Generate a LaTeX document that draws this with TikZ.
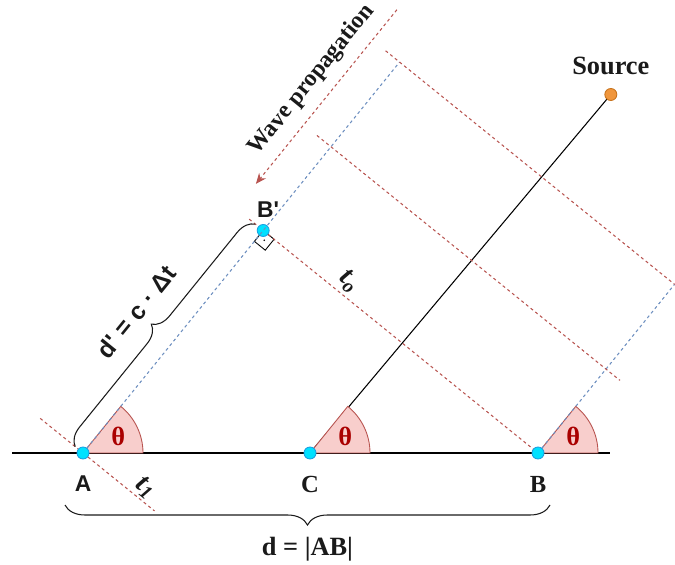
\documentclass[tikz,border=0pt]{standalone}
\usepackage{fontspec}
\setmainfont{Liberation Serif}
\setsansfont{Liberation Sans}
\usetikzlibrary{arrows.meta,calc,positioning,decorations.pathreplacing}
\pgfdeclarelayer{bg}
\pgfsetlayers{bg,main}
\definecolor{ink}{HTML}{1A1A1A}
\definecolor{wave}{HTML}{B85450}
\definecolor{ray}{HTML}{6C8EBF}
\definecolor{sector}{HTML}{F8CECC}
\definecolor{thetared}{HTML}{AA0000}
\definecolor{probe}{HTML}{00E1FF}
\definecolor{probeline}{HTML}{1BA1E2}
\definecolor{srcfill}{HTML}{F0963C}
\definecolor{srcline}{HTML}{C8741E}

\begin{document}
\begin{tikzpicture}[x=0.02cm,y=0.02cm,text=ink,>=Stealth,
  sensor/.style={circle,draw=probeline,fill=probe,line width=0.5pt,minimum size=0.24cm,inner sep=0pt},
  emitter/.style={circle,draw=srcline,fill=srcfill,line width=0.5pt,minimum size=0.24cm,inner sep=0pt},
  front/.style={wave,line width=0.6pt,dash pattern=on 1.7pt off 1.7pt},
  rayline/.style={ray,line width=0.6pt,dash pattern=on 1.7pt off 1.7pt},
  wedge/.style={fill=sector,draw=wave,line width=0.5pt},
  thetalbl/.style={text=thetared,font=\fontsize{15}{17}\selectfont\bfseries},
  sanslbl/.style={inner sep=1pt,font=\fontsize{13}{15}\selectfont\sffamily\bfseries},
  seriflbl/.style={inner sep=1pt,font=\fontsize{14}{16}\selectfont\bfseries},
  timelbl/.style={inner sep=1pt,sloped,text=ink,font=\fontsize{16}{18}\selectfont\bfseries\itshape},
  curly/.style={decorate,draw=ink,line width=0.6pt}]
  \useasboundingbox (0,0) rectangle (675,564);
  \def\ang{51}
  \node[sensor] (A) at (83,111) {};
  \node[sensor] (C) at (310,111) {};
  \node[sensor] (B) at (538,111) {};
  \node[emitter] (src) at ($(C)+(50:468)$) {};
  \coordinate (Aup) at ($(A)+(\ang:100)$);
  \node[sensor] (Bp) at ($(A)!(B)!(Aup)$) {};
  \coordinate (At) at ($(A)+(\ang:503)$);
  \coordinate (Bt) at ($(B)+(\ang:217)$);
  \coordinate (Am) at ($(A)+(\ang:394)$);
  \coordinate (Bm) at ($(B)+(\ang:108)$);

  \begin{pgfonlayer}{bg}
    \draw[line width=0.8pt] (12,111) coordinate (baseL) -- (610,111) coordinate (baseR);
    \draw[line width=0.6pt] (C.center) -- (src.center);
    \foreach \p in {A,C,B}
      \draw[wedge] (\p.center) -- ++(0:60) arc[start angle=0,end angle=\ang,radius=60] -- cycle;
    \draw[line width=0.5pt] (Bp.center) -- ++(-39:14) -- ++(231:14) -- ++(141:14) -- cycle;
    \fill ($(Bp)+(-39:7)+(231:7)$) circle (0.9);
  \end{pgfonlayer}

  \draw[rayline] (A) -- (At);
  \draw[rayline] (B) -- (Bt);
  \draw[front] ($(A)+(141:55)$) -- (A) -- ($(A)+(-39:92)$) node[timelbl,pos=0.75,above=0pt] (tone) {t\textsubscript{1}};
  \draw[front] ($(Bp)+(141:18)$) -- (Bp);
  \draw[front] (Bp) -- (B) node[timelbl,pos=0.27,above=1pt] (tzero) {t\textsubscript{o}};
  \draw[front] ($(Am)+(141:18)$) -- ($(Bm)+(-39:18)$);
  \draw[front] ($(At)+(141:18)$) -- (Bt);
  \draw[front,-{Stealth[length=6pt,width=5pt]}] ($(A)+(\ang:542)+(141:35)$) coordinate (wpS) -- ($(A)+(\ang:318)+(141:35)$) coordinate (wpE);
  \node[seriflbl,rotate=\ang,font=\fontsize{13.5}{15}\selectfont\bfseries] (wavelbl) at ($(A)+(\ang:434)+(141:57)$) {Wave propagation};

  \draw[curly,decoration={brace,amplitude=0.36cm,raise=0.2cm}] (A.center) -- (Bp.center)
    node[sanslbl,midway,sloped,above=0.72cm,font=\fontsize{14}{16}\selectfont\sffamily\bfseries] (dplbl) {d\textquotesingle{} = c · Δt};
  \draw[curly,decoration={brace,mirror,amplitude=0.4cm}] ($(A)+(-18,-52)$) -- ($(B)+(12,-52)$)
    node[seriflbl,midway,below=0.6cm,font=\fontsize{15}{17}\selectfont\bfseries] (dlbl) {d = |AB|};

  \node[sanslbl,below=0.28cm of A] (labA) {A};
  \node[seriflbl,below=0.3cm of C] (labC) {C};
  \node[seriflbl,below=0.3cm of B] (labB) {B};
  \node[sanslbl,above=0.08cm of Bp,xshift=0.1cm] (labBp) {B\textquotesingle};
  \node[seriflbl,above=0.22cm of src,font=\fontsize{15}{17}\selectfont\bfseries] (labsrc) {Source};
  \foreach \p in {A,C,B}
    \node[thetalbl] (th\p) at ($(\p)+(25:39)$) {θ};
\end{tikzpicture}
\end{document}
